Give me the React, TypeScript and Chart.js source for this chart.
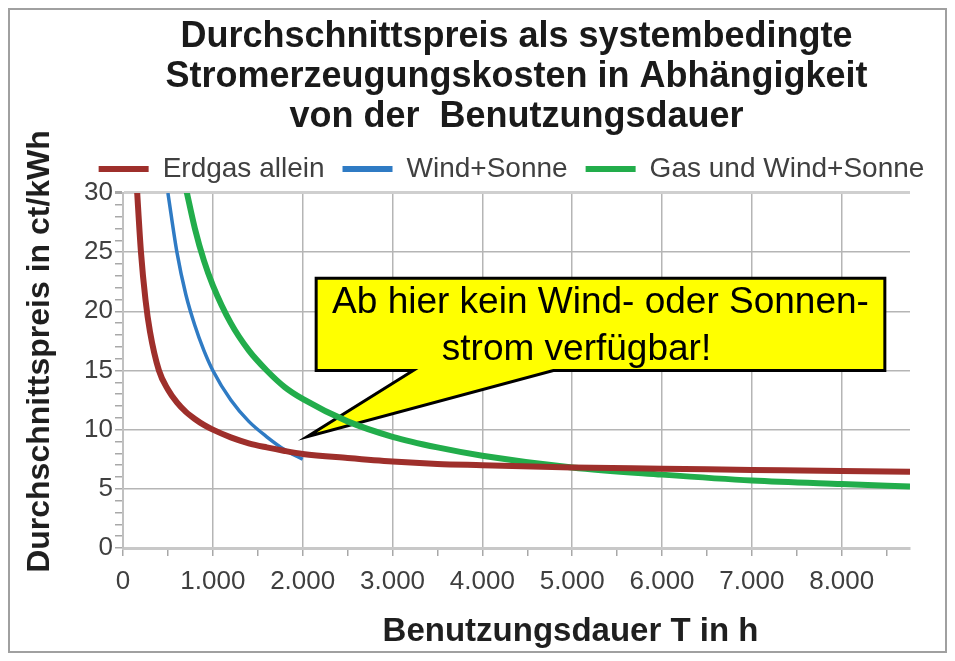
import React, { useEffect, useRef } from 'react';
import { Chart, registerables } from 'chart.js';

Chart.register(...registerables);

const FONT = "'Liberation Sans', Arial, sans-serif";

const titleLines = [
  'Durchschnittspreis als systembedingte',
  'Stromerzeugungskosten in Abhängigkeit',
  'von der  Benutzungsdauer',
];
const xAxisTitle = 'Benutzungsdauer T in h';
const yAxisTitle = 'Durchschnittspreis in ct/kWh';

const seriesLabels = ['Erdgas allein', 'Wind+Sonne', 'Gas und Wind+Sonne'];
const seriesColors = ['#9e2f2b', '#2f7bc4', '#22ad4b'];
const seriesWidths = [6, 3.5, 6];

// Benutzungsdauer T in h
const hours = [150, 200, 250, 300, 400, 500, 600, 700, 800, 900, 1000, 1200, 1400, 1600, 1800, 2000, 2500, 3000, 3500, 4000, 5000, 6000, 7000, 8000, 8760];
// ct/kWh
const erdgasAllein = [31, 25, 21, 18.3, 15, 13.4, 12.3, 11.5, 10.9, 10.4, 10, 9.35, 8.85, 8.5, 8.2, 7.95, 7.6, 7.3, 7.1, 7, 6.8, 6.7, 6.6, 6.5, 6.45];
const windSonne = [null, null, null, null, null, 30, 25, 21.4, 18.8, 16.7, 15, 12.5, 10.7, 9.4, 8.3, 7.5, null, null, null, null, null, null, null, null, null];
const gasWindSonne = [null, null, null, null, null, null, null, 30.4, 27, 24.3, 22.2, 19, 16.7, 15, 13.6, 12.6, 10.7, 9.4, 8.5, 7.8, 6.8, 6.2, 5.7, 5.4, 5.2];

// axis ticks
const xTickValues = [0, 500, 1000, 1500, 2000, 2500, 3000, 3500, 4000, 4500, 5000, 5500, 6000, 6500, 7000, 7500, 8000, 8500];
const xLabelStep = 1000;
const xMin = 0;
const xMax = 8760;
const yMin = 0;
const yMax = 30;
const yStep = 1;
const yLabelStep = 5;

// Callout ("Ab hier ...") anchored in data units
const calloutLines = ['Ab hier kein Wind- oder Sonnen-', 'strom verfügbar!'];
const calloutLineShift = [0, -24];
const calloutTip = { x: 2050, y: 9.4 };
const calloutBox = { xMin: 2150, xMax: 8480, yMin: 15.0, yMax: 22.8 };
const calloutTailBase = [3230, 4790];

// axis title placement relative to the plot area centre
const xTitleShift = 54;
const yTitleShift = -19;

const fmtThousands = (v: number) => String(v).replace(/\B(?=(\d{3})+(?!\d))/g, '.');

const calloutPlugin = {
  id: 'callout',
  beforeDatasetsDraw(chart: any) {
    const { ctx } = chart;
    const xs = chart.scales.x;
    const ys = chart.scales.y;
    const L = xs.getPixelForValue(calloutBox.xMin);
    const R = xs.getPixelForValue(calloutBox.xMax);
    const T = ys.getPixelForValue(calloutBox.yMax);
    const B = ys.getPixelForValue(calloutBox.yMin);
    const tl = xs.getPixelForValue(calloutTailBase[0]);
    const tr = xs.getPixelForValue(calloutTailBase[1]);
    const px = xs.getPixelForValue(calloutTip.x);
    const py = ys.getPixelForValue(calloutTip.y);
    ctx.save();
    ctx.beginPath();
    ctx.moveTo(L, T);
    ctx.lineTo(R, T);
    ctx.lineTo(R, B);
    ctx.lineTo(tr, B);
    ctx.lineTo(px, py);
    ctx.lineTo(tl, B);
    ctx.lineTo(L, B);
    ctx.closePath();
    ctx.fillStyle = '#ffff00';
    ctx.fill();
    ctx.lineWidth = 3;
    ctx.lineJoin = 'miter';
    ctx.strokeStyle = '#000000';
    ctx.stroke();
    ctx.fillStyle = '#000000';
    ctx.font = `37px ${FONT}`;
    ctx.textAlign = 'center';
    ctx.textBaseline = 'alphabetic';
    const cx = (L + R) / 2;
    calloutLines.forEach((t, i) => {
      ctx.fillText(t, cx + calloutLineShift[i], T + 35 + i * 47);
    });
    ctx.restore();
  },
};

const axisTitlePlugin = {
  id: 'axisTitles',
  afterDraw(chart: any) {
    const { ctx, chartArea } = chart;
    ctx.save();
    ctx.fillStyle = '#1f1f1f';
    ctx.font = `bold 33px ${FONT}`;
    ctx.textAlign = 'center';
    ctx.textBaseline = 'middle';
    ctx.fillText(xAxisTitle, (chartArea.left + chartArea.right) / 2 + xTitleShift, chart.scales.x.bottom - 19);
    ctx.translate(chart.scales.y.left + 30, (chartArea.top + chartArea.bottom) / 2 + yTitleShift);
    ctx.rotate(-Math.PI / 2);
    ctx.font = `bold 32px ${FONT}`;
    ctx.fillText(yAxisTitle, 0, 0);
    ctx.restore();
  },
};

const legendCenterPlugin = {
  id: 'legendCenter',
  afterLayout(chart: any) {
    const lg = chart.legend;
    const ca = chart.chartArea;
    if (!lg || !ca) return;
    const shift = (ca.left + ca.right) / 2 - (lg.left + lg.right) / 2 - 5;
    lg.left += shift;
    lg.right += shift;
  },
};

export default function App() {
  const canvasRef = useRef<HTMLCanvasElement | null>(null);

  useEffect(() => {
    if (!canvasRef.current) return;
    const seriesValues = [erdgasAllein, windSonne, gasWindSonne];
    const chart = new Chart(canvasRef.current, {
      type: 'line',
      data: {
        datasets: seriesValues.map((vals, s) => ({
          label: seriesLabels[s],
          data: hours.map((h, i) => ({ x: h, y: vals[i] })),
          borderColor: seriesColors[s],
          backgroundColor: seriesColors[s],
          borderWidth: seriesWidths[s],
          pointRadius: 0,
          pointHoverRadius: 0,
          cubicInterpolationMode: 'monotone',
          spanGaps: false,
          clip: 0,
        })),
      } as any,
      options: {
        responsive: false,
        animation: false,
        layout: { padding: { top: 0, right: 35, bottom: 0, left: 0 } },
        plugins: {
          title: {
            display: true,
            text: titleLines,
            color: '#1a1a1a',
            fullSize: false,
            font: { family: FONT, size: 36, weight: 'bold', lineHeight: 1.111 },
            padding: { top: 7, bottom: 0 },
          },
          legend: {
            display: true,
            position: 'top',
            labels: {
              font: { family: FONT, size: 28 },
              color: '#404040',
              boxWidth: 50,
              boxHeight: 6,
              padding: 18,
              generateLabels: (c: any) =>
                c.data.datasets.map((ds: any, i: number) => ({
                  text: ds.label,
                  fillStyle: ds.borderColor,
                  strokeStyle: ds.borderColor,
                  lineWidth: 0,
                  hidden: false,
                  datasetIndex: i,
                  fontColor: '#404040',
                })),
            },
          },
          tooltip: { enabled: false },
        },
        scales: {
          x: {
            type: 'linear',
            min: xMin,
            max: xMax,
            afterFit: (scale: any) => {
              scale.height = 103;
            },
            afterBuildTicks: (scale: any) => {
              scale.ticks = xTickValues.map((v) => ({ value: v }));
            },
            ticks: {
              autoSkip: false,
              maxRotation: 0,
              padding: 10,
              color: '#3f3f3f',
              font: { family: FONT, size: 26 },
              callback: (v: any) => (Number(v) % xLabelStep === 0 ? fmtThousands(Number(v)) : ''),
            },
            grid: {
              tickLength: 8,
              tickColor: '#a8a8a8',
              lineWidth: 1.5,
              color: (ctx: any) =>
                ctx.tick && ctx.tick.value % xLabelStep === 0 ? '#b5b5b5' : 'rgba(0,0,0,0)',
            },
            border: { color: '#c8c8c8', width: 3 },
            title: { display: false, text: xAxisTitle },
          },
          y: {
            type: 'linear',
            min: yMin,
            max: yMax,
            afterFit: (scale: any) => {
              scale.width = 113;
            },
            ticks: {
              stepSize: yStep,
              autoSkip: false,
              padding: 2,
              color: '#3f3f3f',
              font: { family: FONT, size: 26 },
              callback: (v: any) => (Number(v) % yLabelStep === 0 ? String(v) : ''),
            },
            grid: {
              tickLength: 8,
              tickColor: '#a8a8a8',
              lineWidth: (ctx: any) => (ctx.tick && ctx.tick.value === yMax ? 3 : 1.5),
              color: (ctx: any) => {
                if (!ctx.tick) return 'rgba(0,0,0,0)';
                if (ctx.tick.value === yMax) return '#cfcfcf';
                return ctx.tick.value % yLabelStep === 0 ? '#b5b5b5' : 'rgba(0,0,0,0)';
              },
            },
            border: { color: '#c0c0c0', width: 2 },
            title: { display: false, text: yAxisTitle },
          },
        },
      } as any,
      plugins: [calloutPlugin, legendCenterPlugin, axisTitlePlugin],
    });
    return () => chart.destroy();
  }, []);

  return (
    <div
      style={{
        width: 939,
        height: 645,
        border: '2px solid #a0a0a0',
        boxSizing: 'border-box',
        background: '#ffffff',
      }}
    >
      <canvas ref={canvasRef} width={935} height={641} style={{ display: 'block' }} />
    </div>
  );
}
